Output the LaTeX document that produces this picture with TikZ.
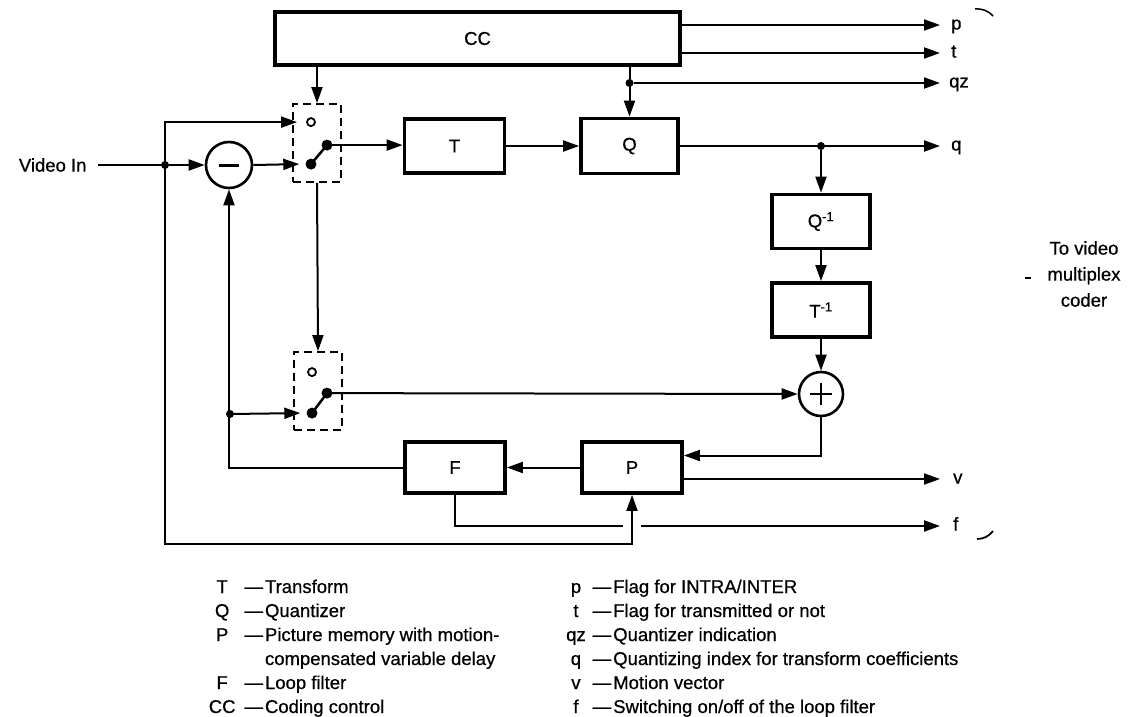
\documentclass[tikz,border=0pt]{standalone}
\usepackage{fontspec}
\setmainfont{Liberation Sans}[UprightFeatures={FakeBold=0.6}]
\usetikzlibrary{arrows.meta,positioning,calc}
\newcommand{\blkfont}{\fontsize{18.5pt}{24pt}\selectfont}

\begin{document}
\begin{tikzpicture}[x=1pt, y=-1pt,
    every node/.style={font=\blkfont},
    blk/.style={draw, line width=3.8pt, minimum width=100pt, minimum height=54pt, inner sep=0pt},
    sumc/.style={draw, circle, line width=2.6pt, minimum size=44pt, inner sep=0pt},
    swbox/.style={draw, dash pattern=on 8pt off 5pt, line width=1.8pt, minimum width=48pt, minimum height=78pt, inner sep=0pt},
    conn/.style={line width=2pt},
    arr/.style={conn, -{Triangle[length=16pt,width=11pt]}},
    jdot/.style={circle, fill, inner sep=0pt, minimum size=8pt},
    cdot/.style={circle, fill, inner sep=0pt, minimum size=11pt},
    odot/.style={circle, draw, line width=1.8pt, inner sep=0pt, minimum size=8pt},
    lbl/.style={anchor=west, inner sep=0pt, text height=9pt, text depth=0pt}]
  \fill[white] (0,0) rectangle (1135,717);
  \useasboundingbox (0,0) rectangle (1135,717);

  \node[blk, minimum width=405pt, minimum height=53pt] (cc) at (477.5,38.5) {CC};
  \node[swbox] (sw1) at (317,143) {};
  \node[blk] (tr) at (454.5,146) {T};
  \node[blk, minimum width=97pt, minimum height=55pt] (qu) at (629.5,146) {Q};
  \node[blk, minimum width=98pt] (iq) at (821,221.5) {Q\textsuperscript{-1}};
  \node[blk, minimum width=98pt] (it) at (821,310) {T\textsuperscript{-1}};
  \node[sumc] (add) at (821,394) {};
  \node[swbox] (sw2) at (318,391) {};
  \node[blk, minimum height=51pt] (pm) at (632,467.5) {P};
  \node[blk, minimum height=51pt] (lf) at (455,467.5) {F};
  \node[sumc, minimum size=46pt] (sub) at (229,165) {};
  \node[anchor=east] (vin) at (90,165) {Video In};

  \draw[line width=3pt] ([xshift=-10pt]sub.center) -- ([xshift=10pt]sub.center);
  \draw[line width=2.6pt] ([xshift=-11pt]add.center) -- ([xshift=11pt]add.center);
  \draw[line width=2.6pt] ([yshift=-11pt]add.center) -- ([yshift=11pt]add.center);

  \node[odot] (s1o) at ($(sw1.north)+(-6,19)$) {};
  \node[cdot] (s1p) at ($(sw1.north)+(-6,61)$) {};
  \node[cdot] (s1c) at ($(sw1.north)+(10,42)$) {};
  \draw[line width=2.5pt] (s1p.center) -- (s1c.center);
  \node[odot] (s2o) at ($(sw2.north)+(-6,21)$) {};
  \node[cdot] (s2p) at ($(sw2.north)+(-6,62)$) {};
  \node[cdot] (s2c) at ($(sw2.north)+(9,42)$) {};
  \draw[line width=2.5pt] (s2p.center) -- (s2c.center);

  \node[lbl] (lp) at (951,25) {p};
  \node[lbl] (lt) at (951,53) {t};
  \node[lbl] (lqz) at (949,83) {qz};
  \node[lbl] (lq) at (951,146) {q};
  \node[lbl] (lv) at (953,479) {v};
  \node[lbl] (fout) at (953,526) {f};

  \node[jdot] (jin) at (165,165) {};
  \node[jdot] (jqz) at (629.5,83) {};
  \node[jdot] (jq) at (821,146) {};
  \node[jdot] (jfb) at (230,414) {};
  \coordinate (bot) at (165,544);
  \coordinate (fcross) at (632,526);

  \draw[conn, shorten <=8pt] (vin) -- (jin);
  \draw[arr] (jin) -- (sub);
  \draw[arr] (jin.center) |- ([xshift=-9pt]s1o.west);
  \draw[arr] (jin.center) -- (bot) -| (pm.south);
  \draw[arr] (sub.east) -- ([xshift=-6pt]s1p.west);
  \draw[arr] (s1c.center) -- (s1c.center -| tr.west);
  \draw[arr] (tr) -- (qu);
  \draw[arr] (cc.south -| sw1.north) -- (sw1.north);
  \draw[arr] (sw1.south) -- (sw2.north);
  \draw[arr] (cc.south -| qu.north) -- (qu.north);
  \draw[arr] (cc.east |- lp) -- ([xshift=-11pt]lp.west);
  \draw[arr] (cc.east |- lt) -- ([xshift=-11pt]lt.west);
  \draw[arr] (jqz) -- ([xshift=-9pt]lqz.west);
  \draw[arr] (qu.east) -- ([xshift=-11pt]lq.west);
  \draw[arr] (jq) -- (iq);
  \draw[arr] (iq) -- (it);
  \draw[arr] (it) -- (add);
  \draw[arr] (s2c.center) -- (add.west);
  \draw[arr] (add.south) |- ([yshift=12pt]pm.east);
  \draw[arr] ([yshift=-11.5pt]pm.east) -- ([xshift=-13pt]lv.west);
  \draw[arr] (pm) -- (lf);
  \draw[arr] (lf.west) -| (sub.south);
  \draw[arr] (jfb) -- ([xshift=-6pt]s2p.west);
  \draw[conn] (lf.south) |- ([xshift=-9pt]fcross);
  \draw[arr] ([xshift=9pt]fcross) -- ([xshift=-13pt]fout.west);

  \draw[line width=1.5pt] (975,9) to[bend left=25] (993,16);
  \draw[line width=1.8pt] (977,539) to[bend right=25] (993,531);
  \draw[line width=2pt] (1025,278) -- (1031,278);
  \node[align=center, font=\fontsize{18.5pt}{26pt}\selectfont] (tvm) at (1084,274) {To video\\multiplex\\coder};

  \node[anchor=base west, inner sep=0pt] (legl) at (208.6,593) {\begin{tabular}[t]{@{}c@{\hspace{9pt}}l@{}}
    T & \textemdash\hspace{2pt}Transform\\
    Q & \textemdash\hspace{2pt}Quantizer\\
    P & \textemdash\hspace{2pt}Picture memory with motion-\\
      & \hphantom{\textemdash\hspace{2pt}}compensated variable delay\\
    F & \textemdash\hspace{2pt}Loop filter\\
    CC & \textemdash\hspace{2pt}Coding control
  \end{tabular}};
  \node[anchor=base west, inner sep=0pt] (legr) at (566,593) {\begin{tabular}[t]{@{}c@{\hspace{7pt}}l@{}}
    p & \textemdash\hspace{2pt}Flag for INTRA/INTER\\
    t & \textemdash\hspace{2pt}Flag for transmitted or not\\
    qz & \textemdash\hspace{2pt}Quantizer indication\\
    q & \textemdash\hspace{2pt}Quantizing index for transform coefficients\\
    v & \textemdash\hspace{2pt}Motion vector\\
    f & \textemdash\hspace{2pt}Switching on/off of the loop filter
  \end{tabular}};
\end{tikzpicture}
\end{document}
